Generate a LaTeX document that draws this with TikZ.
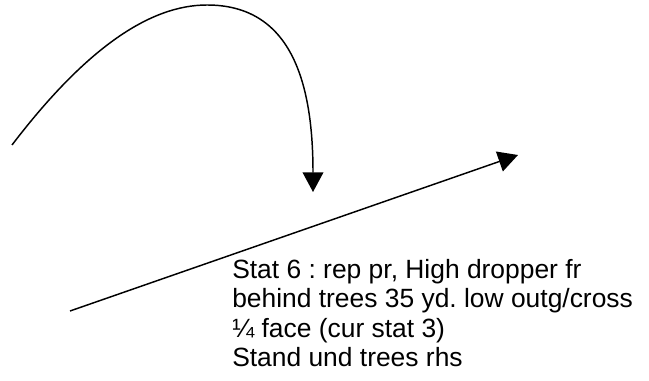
\documentclass[tikz,border=0pt]{standalone}
\usepackage{fontspec}
\setmainfont{Liberation Sans}
\usetikzlibrary{arrows.meta}
\tikzset{
  shotline/.style={line width=1.1pt, -{Triangle[length=14.8pt,width=15.6pt]}},
  notetext/.style={anchor=north west, inner sep=0pt, align=left, font=\fontsize{19.8}{22.1}\selectfont\frenchspacing}
}
\begin{document}
\begin{tikzpicture}[x=0.75pt,y=0.75pt,yscale=-1,xscale=1]
\useasboundingbox (0,0) rectangle (649,381);

%Coordinates
\coordinate (flightstart) at (12,145);
\coordinate (flighttop) at (207,5);
\coordinate (flightend) at (313,192);
\coordinate (crossstart) at (70,311);
\coordinate (crossend) at (518,155);

%Curve Lines
\draw [shotline] (flightstart) .. controls (86,48) and (150,5) .. (flighttop) .. controls (290,5) and (313,80) .. (flightend) ;
%Straight Lines
\draw [shotline] (crossstart) -- (crossend) ;

% Text Node
\node [notetext] (note) at (232,259) {Stat 6 : rep pr, High dropper fr\\behind trees 35 yd. low outg/cross\\¼ face (cur stat 3)\\Stand und trees rhs};

\end{tikzpicture}
\end{document}
